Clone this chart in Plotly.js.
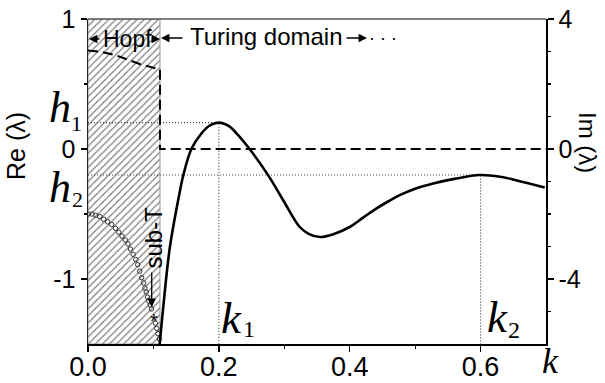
<!DOCTYPE html>
<html><head><meta charset="utf-8">
<script src="https://cdn.plot.ly/plotly-3.0.1.min.js"></script>
<style>html,body{margin:0;padding:0;background:#fff}</style>
</head><body><div id="chart" style="width:605px;height:383px"></div>
<script>
// ---- data ----
// Re(lambda), main (Turing) branch, solid
const kRe    = [0.109, 0.116, 0.125, 0.1395, 0.1456, 0.158, 0.1736, 0.185, 0.200, 0.215, 0.227, 0.247, 0.2755, 0.2983, 0.3237, 0.338, 0.3543, 0.375, 0.40, 0.42, 0.44, 0.46, 0.4763, 0.50, 0.5275, 0.56, 0.5985, 0.63, 0.654, 0.698];
const reMain = [-1.53, -1.166, -0.76, -0.35, -0.203, 0.0, 0.121, 0.177, 0.203, 0.177, 0.121, 0.0, -0.203, -0.394, -0.60, -0.655, -0.677, -0.655, -0.60, -0.53, -0.46, -0.40, -0.355, -0.305, -0.265, -0.23, -0.20, -0.213, -0.24, -0.296];
// Re(lambda), Hopf branch (open markers)
const kHopf  = [0, 0.006, 0.012, 0.018, 0.024, 0.030, 0.036, 0.042, 0.047, 0.052, 0.057, 0.061, 0.065, 0.069, 0.073, 0.076, 0.079, 0.082, 0.085, 0.087, 0.089, 0.091, 0.093, 0.095, 0.097];
const reHopf = [-0.50, -0.50, -0.51, -0.52, -0.54, -0.56, -0.58, -0.61, -0.64, -0.67, -0.70, -0.73, -0.77, -0.81, -0.85, -0.89, -0.94, -0.99, -1.03, -1.07, -1.10, -1.14, -1.17, -1.20, -1.23];
const kHopfTail  = [0.103, 0.105, 0.107, 0.109];
const reHopfTail = [-1.34, -1.38, -1.42, -1.46];
// Im(lambda), dashed (right axis)
const kIm  = [0, 0.02, 0.04, 0.06, 0.08, 0.10, 0.11, 0.11, 0.70];
const imVals = [3.03, 2.99, 2.90, 2.76, 2.61, 2.50, 2.45, 0, 0];
// characteristic values
const kHopfEdge = 0.11;
const k1 = 0.2, h1 = 0.203;
const k2 = 0.6, h2 = -0.20;
const xTicks = [0, 0.2, 0.4, 0.6], xTickText = ['0.0', '0.2', '0.4', '0.6'];
const yTicks = [-1, 0, 1], yTickText = ['-1', '0', '1'];
const y2Ticks = [-4, 0, 4], y2TickText = ['-4', '0', '4'];
const xRange = [0, 0.7], yRange = [-1.5, 1], y2Range = [-6, 4];

// ---- helpers (pixel -> paper for text placement) ----
const L = 88, R = 546, T = 19, B = 344;
const px = v => (v - L) / (R - L);
const py = v => (B - v) / (B - T);
const SANS = 'Liberation Sans, Arial, sans-serif';
const SERIF = 'Liberation Serif, Times New Roman, serif';

const traces = [
  { // hatched Hopf region
    x: [0, kHopfEdge, kHopfEdge, 0, 0], y: [yRange[0], yRange[0], yRange[1], yRange[1], yRange[0]],
    mode: 'lines', fill: 'toself', fillcolor: 'white',
    fillpattern: { shape: '/', size: 5, solidity: 0.22, fgcolor: '#777', bgcolor: 'white' },
    line: { color: '#999', width: 1 }, hoverinfo: 'skip'
  },
  { // h1 / k1 guides
    x: [0, k1, k1], y: [h1, h1, yRange[0]], mode: 'lines',
    line: { color: '#444', width: 1.2, dash: '1px,2px' }
  },
  { // h2 / k2 guides
    x: [0, k2, k2], y: [h2, h2, yRange[0]], mode: 'lines',
    line: { color: '#444', width: 1.2, dash: '1px,2px' }
  },
  { // Im dashed
    x: kIm, y: imVals, yaxis: 'y2', mode: 'lines',
    line: { color: 'black', width: 2, dash: '10px,5px' }
  },
  { // Hopf Re markers
    x: kHopf, y: reHopf, mode: 'markers',
    marker: { symbol: 'circle-open', size: 4.5, color: '#333', line: { width: 1, color: '#333' } }
  },
  {
    x: kHopfTail, y: reHopfTail, mode: 'markers',
    marker: { symbol: 'circle-open', size: 4.5, color: '#333', line: { width: 1, color: '#333' } }
  },
  { // main Re solid
    x: kRe, y: reMain, mode: 'lines',
    line: { color: 'black', width: 2.6, shape: 'spline', smoothing: 1 }
  }
];

function txt(text, xp, yp, size, family, extra) {
  return Object.assign({ text: text, xref: 'paper', yref: 'paper', x: px(xp), y: py(yp),
    xanchor: 'center', yanchor: 'middle', showarrow: false,
    font: { family: family || SANS, size: size, color: 'black' } }, extra || {});
}
function arrow(xHead, yHead, ax, ay) {
  return { text: '', xref: 'paper', yref: 'paper', x: px(xHead), y: py(yHead), ax: ax, ay: ay,
    showarrow: true, arrowhead: 2, arrowsize: 1.3, arrowwidth: 1.3, arrowcolor: 'black', standoff: 0 };
}

const annotations = [
  txt('Re (λ)', 16, 146, 25, SANS, { textangle: -90 }),
  txt('Im (λ)', 588, 142, 24, SANS, { textangle: 90 }),
  txt('Hopf', 127, 38.5, 23),
  arrow(89, 39, 12, 0),
  arrow(160, 39, -7, 0),
  txt('Turing domain', 266.5, 37, 24),
  arrow(161, 38, 23, 0),
  arrow(367, 38, -22, 0),
  txt('· · ·', 383, 38, 18),
  txt('sub-T', 152.5, 238, 24, SANS, { textangle: -90 }),
  arrow(151.7, 307, 0, -36),
  txt('*', 154, 321, 20),
  txt('<i>h</i>', 59.5, 107, 44, SERIF),
  txt('1', 76, 123.5, 22, SERIF),
  txt('<i>h</i>', 59.5, 187, 44, SERIF),
  txt('2', 77, 199, 22, SERIF),
  txt('<i>k</i>', 231, 318, 45, SERIF),
  txt('1', 248.5, 329, 24, SERIF),
  txt('<i>k</i>', 497, 317, 45, SERIF),
  txt('2', 514, 330, 24, SERIF),
  txt('<i>k</i>', 550, 361, 36, SERIF)
];

const axisCommon = { showgrid: false, zeroline: false, showline: true, linewidth: 1.5,
  ticks: 'outside', ticklen: 6, tickwidth: 1.5, tickcolor: 'black' };

const layout = {
  width: 605, height: 383, margin: { l: L, r: 605 - R, t: T, b: 383 - B, pad: 0 },
  paper_bgcolor: 'white', plot_bgcolor: 'white', showlegend: false,
  font: { family: SANS, color: 'black' },
  xaxis: Object.assign({}, axisCommon, { range: xRange, linecolor: 'black',
    tickvals: xTicks, ticktext: xTickText, tickfont: { size: 27, family: SANS, color: 'black' },
    ticklabelstandoff: -8,
    minor: { tickvals: [0.1, 0.3, 0.5], ticks: 'outside', ticklen: 3, tickwidth: 1.2, tickcolor: 'black' } }),
  yaxis: Object.assign({}, axisCommon, { range: yRange, linecolor: '#222',
    tickvals: yTicks, ticktext: yTickText, tickfont: { size: 25, family: SANS, color: 'black' },
    minor: { tickvals: [-0.5, 0.5], ticks: 'outside', ticklen: 3, tickwidth: 1.2, tickcolor: 'black' } }),
  yaxis2: Object.assign({}, axisCommon, { range: y2Range, overlaying: 'y', side: 'right', linecolor: 'black',
    tickvals: y2Ticks, ticktext: y2TickText, tickfont: { size: 25, family: SANS, color: 'black' },
    minor: { tickvals: [-5, -3, -2, -1, 1, 2, 3], ticks: 'outside', ticklen: 3, tickwidth: 1.2, tickcolor: 'black' } }),
  shapes: [{ type: 'line', xref: 'paper', yref: 'paper', x0: 0, x1: 1, y0: 1, y1: 1,
    line: { color: '#555', width: 1.5 } }],
  annotations: annotations
};

Plotly.newPlot('chart', traces, layout, { staticPlot: true, displayModeBar: false });
</script>
</body></html>
